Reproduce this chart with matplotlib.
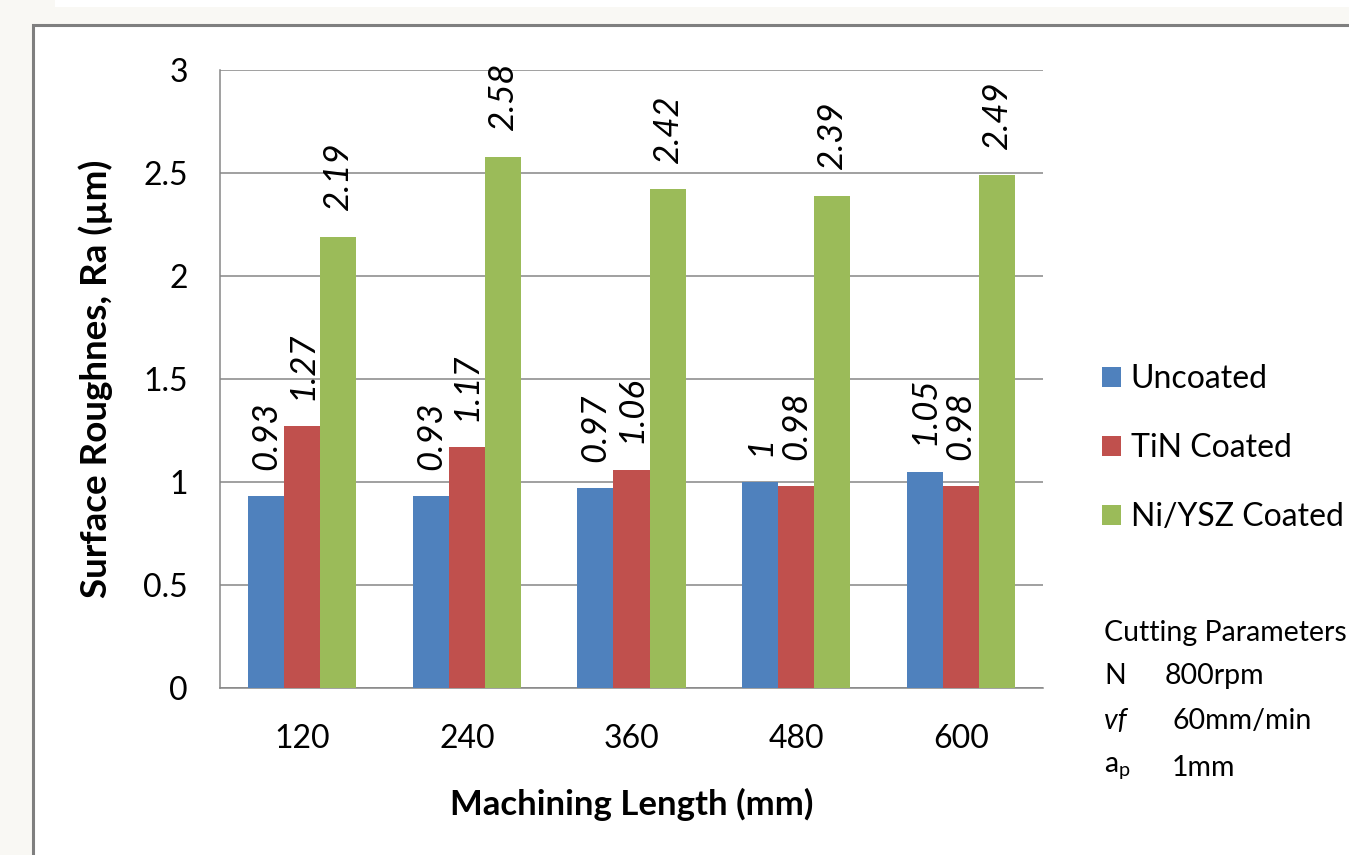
import matplotlib
matplotlib.use("Agg")
import matplotlib.pyplot as plt
import numpy as np
from matplotlib.patches import Rectangle, Patch

plt.rcParams['font.family'] = ['Lato', 'DejaVu Sans']
plt.rcParams['mathtext.fontset'] = 'custom'
plt.rcParams['mathtext.rm'] = 'Lato'
plt.rcParams['mathtext.it'] = 'Lato:italic'

lengths = ['120', '240', '360', '480', '600']
uncoated = [0.93, 0.93, 0.97, 1, 1.05]
tin = [1.27, 1.17, 1.06, 0.98, 0.98]
nysz = [2.19, 2.58, 2.42, 2.39, 2.49]
series_names = ['Uncoated', 'TiN Coated', 'Ni/YSZ Coated']
colors = ['#4f81bd', '#c0504d', '#9bbb59']

W, H = 1349, 855
fig = plt.figure(figsize=(W / 100, H / 100), dpi=100, facecolor='#f9f8f4')

# white strip at very top and the chart frame
fig.patches.append(Rectangle((55 / W, 1 - 7 / H), 1, 7 / H, transform=fig.transFigure,
                             facecolor='white', edgecolor='none', zorder=-2))
fig.patches.append(Rectangle((33 / W, -0.05), 1.2, (H - 25) / H + 0.05, transform=fig.transFigure,
                             facecolor='white', edgecolor='#7f7f7f', linewidth=2.2, zorder=-1))

ax = fig.add_axes([220 / W, (H - 688) / H, (1043 - 220) / W, (688 - 70) / H])
ax.set_zorder(2)
ax.set_facecolor('white')

x = np.arange(len(lengths))
bw = 0.219
for i, (vals, c) in enumerate(zip([uncoated, tin, nysz], colors)):
    pos = x + (i - 1) * bw
    ax.bar(pos, vals, width=bw, color=c, zorder=3)
    for px, v in zip(pos, vals):
        ax.annotate(f'{v:g}', (px, v), xytext=(0, 19), textcoords='offset points',
                    rotation=90, ha='center', va='bottom', fontsize=25,
                    style='italic', color='black', zorder=4)

ax.set_xlim(-0.5, len(lengths) - 0.5)
ax.set_ylim(0, 3)
ax.set_yticks(np.arange(0, 3.01, 0.5))
ax.set_yticklabels(['0', '0.5', '1', '1.5', '2', '2.5', '3'])
ax.set_xticks(x)
ax.set_xticklabels(lengths)
ax.tick_params(axis='y', length=0, pad=23, labelsize=23)
ax.tick_params(axis='x', length=0, pad=26, labelsize=23)
ax.yaxis.grid(True, color='#868686', linewidth=1.1, zorder=0)
ax.set_axisbelow(True)
for s in ['top', 'right']:
    ax.spines[s].set_visible(False)
for s in ['left', 'bottom']:
    ax.spines[s].set_color('#868686')
    ax.spines[s].set_linewidth(1.1)

ax.set_xlabel('Machining Length (mm)', fontsize=25, fontweight='bold')
ax.xaxis.set_label_coords(0.5, -0.162)
ax.set_ylabel('Surface Roughnes, Ra (µm)', fontsize=26.5, fontweight='bold')
ax.yaxis.set_label_coords(-0.13, 0.5)

handles = [Patch(facecolor=c, edgecolor='none') for c in colors]
fig.legend(handles, series_names, loc='center left', bbox_to_anchor=(1102 / W, 1 - 448 / H),
           frameon=False, fontsize=23, handlelength=0.6, handleheight=0.6,
           handletextpad=0.3, labelspacing=1.22, borderaxespad=0, borderpad=0)

fs = 20.5
fig.text(1104 / W, 1 - 633 / H, 'Cutting Parameters', fontsize=fs, va='center')
fig.text(1104 / W, 1 - 676 / H, 'N', fontsize=fs, va='center')
fig.text(1165 / W, 1 - 676 / H, '800rpm', fontsize=fs, va='center')
fig.text(1104 / W, 1 - 721 / H, 'vf', fontsize=fs, va='center', style='italic')
fig.text(1172 / W, 1 - 721 / H, '60mm/min', fontsize=fs, va='center')
fig.text(1104 / W, 1 - 768 / H, r'a$_\mathrm{p}$', fontsize=fs, va='center')
fig.text(1172 / W, 1 - 768 / H, '1mm', fontsize=fs, va='center')

fig.savefig('out.png', dpi=100, facecolor=fig.get_facecolor())
